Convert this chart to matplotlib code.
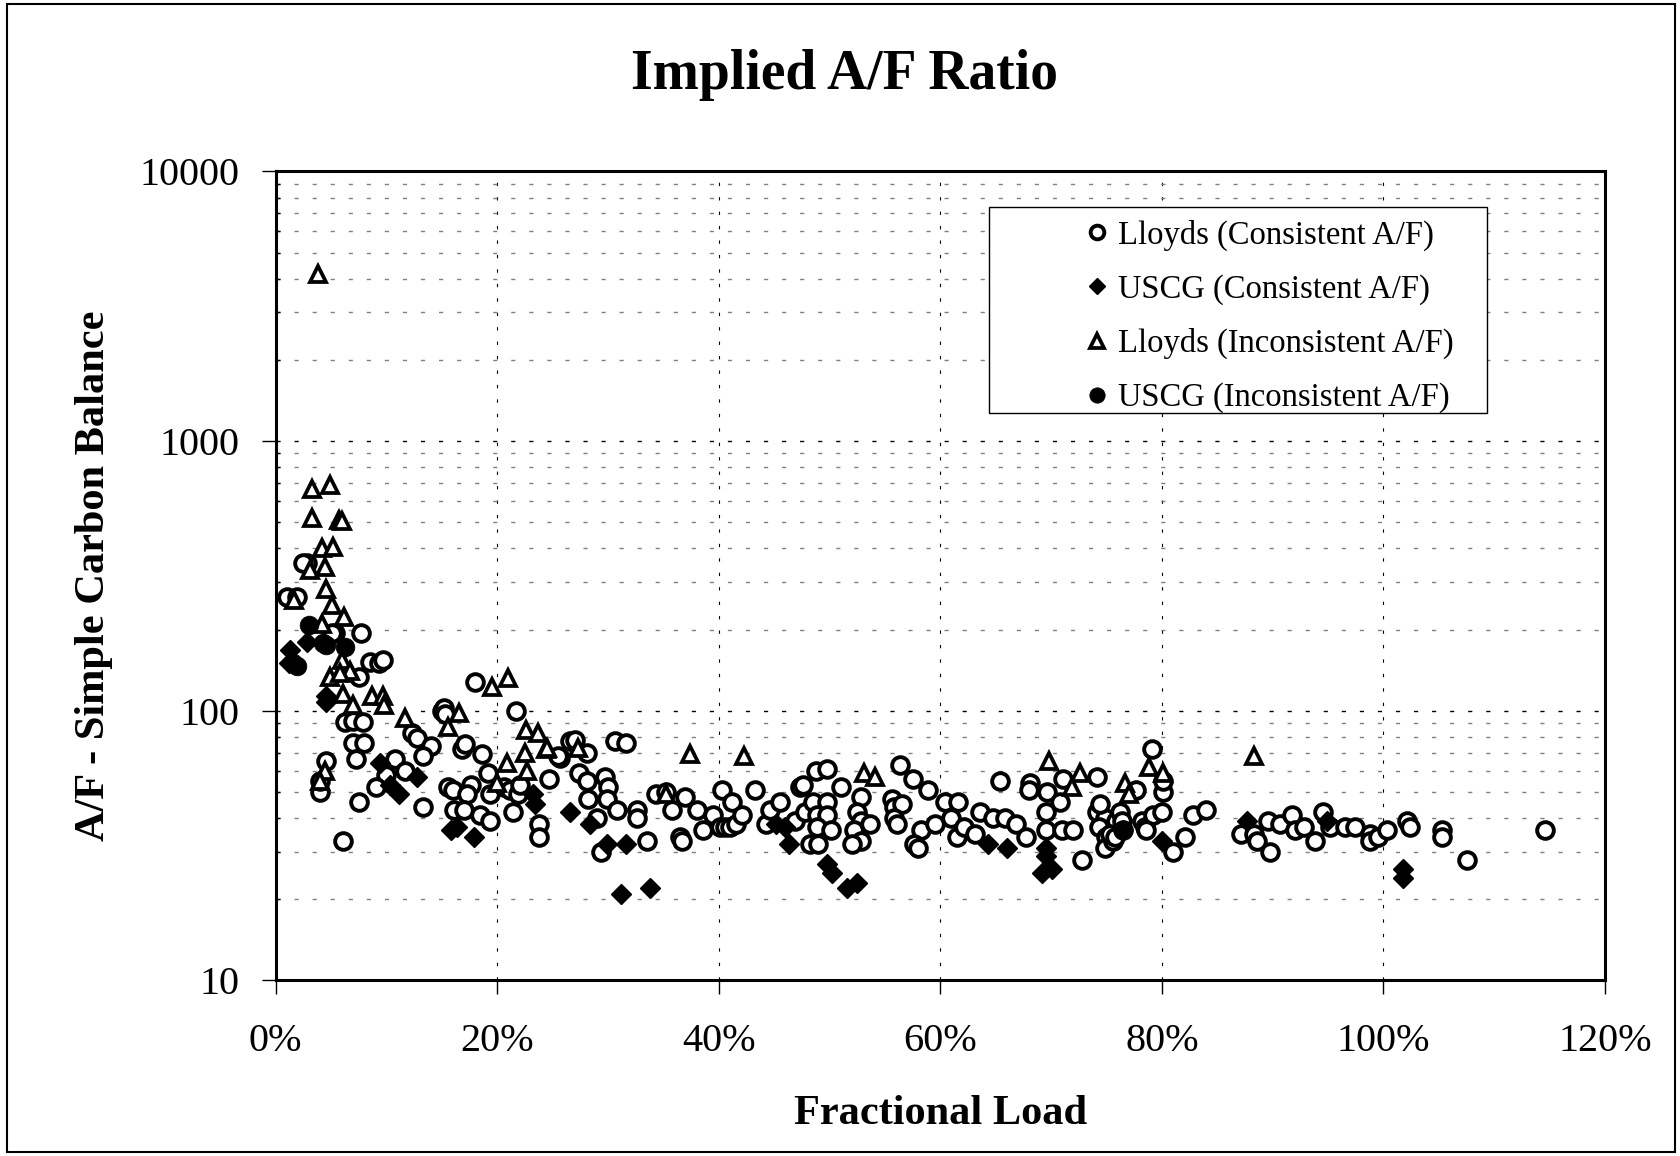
import matplotlib
matplotlib.use('Agg')
import matplotlib.pyplot as plt
from matplotlib.ticker import FixedLocator, FuncFormatter, LogLocator, NullFormatter
from matplotlib.lines import Line2D
from matplotlib.patches import Rectangle

plt.rcParams['font.family'] = ['Liberation Serif', 'DejaVu Serif']

# ---------------- data (fractional load in %, A/F ratio) ----------------
lloyds_cons_load = [7.5, 7.7, 2.8, 2.5, 1.0, 1.9, 5.4, 5.1, 8.5, 9.3, 9.7, 18.0, 21.7, 15.0, 15.2,
                    6.3, 7.0, 7.9, 7.0, 8.0, 7.3, 4.6, 4.0, 4.0, 7.5, 6.1, 10.8, 10.0, 9.1, 11.7,
                    12.3, 12.8, 14.0, 13.3, 13.3, 15.3, 16.8, 17.1, 18.6, 19.2, 15.6, 16.0, 17.6,
                    17.3, 16.1, 17.0, 18.5, 19.4, 19.4, 20.6, 21.2, 21.9, 22.1, 21.4, 23.8, 23.8,
                    24.7, 25.7, 26.6,
                    27.0, 28.1, 25.5, 30.6, 31.6, 27.4, 28.1, 29.7, 30.0, 28.2, 29.9, 30.8, 29.0,
                    29.4, 32.6, 32.6, 33.5, 34.3, 35.2, 36.5, 36.7, 37.0, 35.8, 38.0, 38.6, 39.5,
                    40.3, 40.1, 40.6, 41.0, 41.6, 41.2, 42.1, 43.3, 44.3, 44.6, 45.5, 47.3, 47.6,
                    48.8, 49.8, 46.9, 47.8, 48.5, 49.8, 48.9, 49.8, 48.9, 50.1, 48.2, 49.0, 51.0,
                    52.8, 52.5, 52.8, 53.7, 52.2, 52.8, 52.0,
                    56.4, 57.5, 58.9, 55.6, 55.8, 56.5, 55.8, 56.1, 58.3, 57.6, 58.0, 59.5, 60.4,
                    61.6, 61.0, 61.5, 62.1, 63.1, 63.6, 64.8, 65.8, 65.4, 66.8, 67.7, 68.1, 68.0,
                    69.6, 69.5, 69.5, 70.8, 71.1, 71.0, 72.0, 72.8, 74.1, 74.1, 74.9, 74.3, 75.0,
                    74.9, 75.6, 75.9,
                    79.1, 77.7, 80.1, 80.1, 74.4, 76.2, 76.4, 75.3, 75.8, 76.5, 78.2, 78.5, 79.2,
                    80.0, 78.6, 82.1, 81.0, 82.8, 84.0, 87.1, 88.3, 88.6, 89.8, 89.6, 90.7, 91.7,
                    92.0, 92.8, 93.8, 94.5, 95.2, 96.5, 97.4, 98.8, 98.8, 99.5, 100.3,
                    102.1, 102.4, 105.3, 105.3, 107.5, 114.6]
lloyds_cons_af = [133, 195, 354, 354, 265, 265, 194, 194, 152, 150, 154, 128, 100, 100, 102,
                  91, 92, 91, 76, 76, 66, 65, 50, 55, 46, 33, 66, 58, 52, 60,
                  83, 79, 74, 68, 44, 97, 72, 75, 69, 59, 52, 51, 53,
                  49, 43, 43, 41, 39, 49, 52, 51, 49, 53, 42, 38, 34,
                  56, 67, 77,
                  78, 70, 68, 77, 76, 59, 55, 57, 52, 47, 47, 43, 40,
                  30, 43, 40, 33, 49, 50, 34, 33, 48, 43, 43, 36, 41,
                  51, 37, 37, 37, 38, 46, 41, 51, 38, 43, 46, 52, 53,
                  60, 61, 39, 42, 46, 46, 41, 41, 37, 36, 32, 32, 52,
                  48, 42, 39, 38, 36, 33, 32,
                  63, 56, 51, 47, 44, 45, 40, 38, 36, 32, 31, 38, 46,
                  46, 40, 34, 37, 35, 42, 40, 40, 55, 38, 34, 54, 51,
                  50, 42, 36, 46, 56, 36, 36, 28, 57, 42, 40, 37, 34,
                  31, 33, 39,
                  72, 51, 50, 55, 45, 42, 39, 35, 34, 36, 39, 37, 41,
                  42, 36, 34, 30, 41, 43, 35, 35, 33, 30, 39, 38, 41,
                  36, 37, 33, 42, 37, 37, 37, 35, 33, 34, 36,
                  39, 37, 36, 34, 28, 36]

uscg_cons_load = [1.3, 1.2, 2.8, 4.6, 4.6, 9.4, 10.3, 11.1, 12.8, 23.4, 23.2, 26.6, 15.8, 16.4,
                  17.9, 28.4, 29.9, 31.6, 31.2, 33.8, 45.2, 46.0, 46.3, 49.8, 50.2, 51.6, 52.5,
                  64.3, 66.0, 69.5, 69.5, 69.2, 70.1, 80.0, 87.7, 94.9, 76.5, 101.8, 101.8]
uscg_cons_af = [168, 150, 180, 113, 108, 64, 53, 49, 57, 45, 49, 42, 36, 37,
                34, 38, 32, 32, 21, 22, 38, 37, 32, 27, 25, 22, 23,
                32, 31, 31, 29, 25, 26, 33, 39, 39, 36, 26, 24]

lloyds_incons_load = [3.8, 3.3, 4.9, 3.3, 5.7, 6.0, 4.2, 5.2, 3.1, 4.5, 4.6, 5.1, 6.2, 1.7, 4.2,
                      6.0, 4.9, 6.7, 5.8, 6.1, 8.7, 9.7, 9.8, 11.7, 7.0, 16.6, 19.5, 21.0, 15.6,
                      22.6, 23.7, 24.4, 22.5, 20.9, 22.7, 20.0, 4.5, 4.0, 24.5, 27.3, 37.4, 42.3,
                      35.2, 53.1, 54.1, 69.8, 72.6, 71.9, 78.8, 76.7, 77.0, 80.1, 88.3]
lloyds_incons_af = [4150, 662, 688, 517, 509, 505, 401, 404, 333, 342, 282, 247, 222, 258, 210,
                    154, 133, 140, 138, 115, 113, 113, 105, 94, 105, 98, 122, 132, 87,
                    85, 83, 72, 70, 64, 60, 54, 60, 55, 73, 73, 69, 68,
                    49, 59, 57, 65, 59, 52, 62, 54, 49, 59, 68]

uscg_incons_load = [3.0, 4.3, 4.6, 6.3, 1.9, 1.6]
uscg_incons_af = [208, 178, 176, 173, 146, 150]

series_labels = ['Lloyds (Consistent A/F)', 'USCG (Consistent A/F)',
                 'Lloyds (Inconsistent A/F)', 'USCG (Inconsistent A/F)']
x_ticks = [0, 20, 40, 60, 80, 100, 120]
y_ticks = [10, 100, 1000, 10000]

# ---------------- figure ----------------
fig = plt.figure(figsize=(16.8, 11.56), dpi=100)
ax = fig.add_axes([0.164, 0.1519, 0.7914, 0.6998])

styles = [
    dict(marker='o', ms=12, mfc='white', mec='black', mew=2.8),
    dict(marker='D', ms=10.5, mfc='black', mec='black', mew=1.0),
    dict(marker='^', ms=11.5, mfc='white', mec='black', mew=2.7),
    dict(marker='o', ms=13.5, mfc='black', mec='black', mew=0.5),
]
data = [(lloyds_cons_load, lloyds_cons_af), (uscg_cons_load, uscg_cons_af),
        (lloyds_incons_load, lloyds_incons_af), (uscg_incons_load, uscg_incons_af)]
for (xs, ys), st in zip(data, styles):
    ax.plot(xs, ys, linestyle='none', zorder=3, **st)

ax.set_yscale('log')
ax.set_xlim(0, 120)
ax.set_ylim(10, 10000)
ax.xaxis.set_major_locator(FixedLocator(x_ticks))
ax.xaxis.set_major_formatter(FuncFormatter(lambda v, p: f'{v:.0f}%'))
ax.yaxis.set_major_locator(FixedLocator(y_ticks))
ax.yaxis.set_major_formatter(FuncFormatter(lambda v, p: f'{v:.0f}'))
ax.yaxis.set_minor_locator(LogLocator(base=10, subs=range(2, 10)))
ax.yaxis.set_minor_formatter(NullFormatter())

ax.yaxis.grid(True, which='minor', color='#808080', linestyle=(0, (3, 10)), linewidth=1.0)
ax.yaxis.grid(True, which='major', color='black', linestyle=(0, (3, 10)), linewidth=1.0)
ax.xaxis.grid(True, which='major', color='black', linestyle=(0, (3, 10)), linewidth=0.8)
ax.set_axisbelow(True)

ax.tick_params(axis='both', which='major', direction='out', length=10, width=1, labelsize=29)
ax.tick_params(axis='y', which='major', pad=16)
ax.tick_params(axis='x', which='major', pad=21)
ax.tick_params(axis='y', which='minor', direction='in', length=3, width=1)
for sp in ax.spines.values():
    sp.set_linewidth(2.2)
    sp.set_color('black')

fig.text(0.5025, 1 - 75 / 1156, 'Implied A/F Ratio', ha='center', va='center',
         fontsize=40, fontweight='bold')
fig.text(0.5596, 1 - 1114 / 1156, 'Fractional Load', ha='center', va='center',
         fontsize=30.5, fontweight='bold')
fig.text(0.056, 0.5017, 'A/F - Simple Carbon Balance', ha='center', va='center',
         rotation=90, fontsize=30.5, fontweight='bold')

# legend box + legend
box = Rectangle((0.5367, 0.702), 0.3746, 0.254, transform=ax.transAxes,
                facecolor='white', edgecolor='black', linewidth=1.0, zorder=5, clip_on=False)
ax.add_patch(box)
handles = [Line2D([], [], linestyle='none', **st) for st in styles]
leg = ax.legend(handles, series_labels, loc='center left', bbox_to_anchor=(0.6104, 0.8206),
                frameon=False, fontsize=23.5, markerscale=0.82, handlelength=0.6,
                handletextpad=0.35, labelspacing=0.71, borderpad=0, borderaxespad=0)
leg.set_zorder(6)

fig.patches.append(Rectangle((0.0042, 0.0035), 0.9928, 0.993, transform=fig.transFigure,
                             fill=False, edgecolor='black', linewidth=1.5))

fig.savefig('out.png', dpi=100)
